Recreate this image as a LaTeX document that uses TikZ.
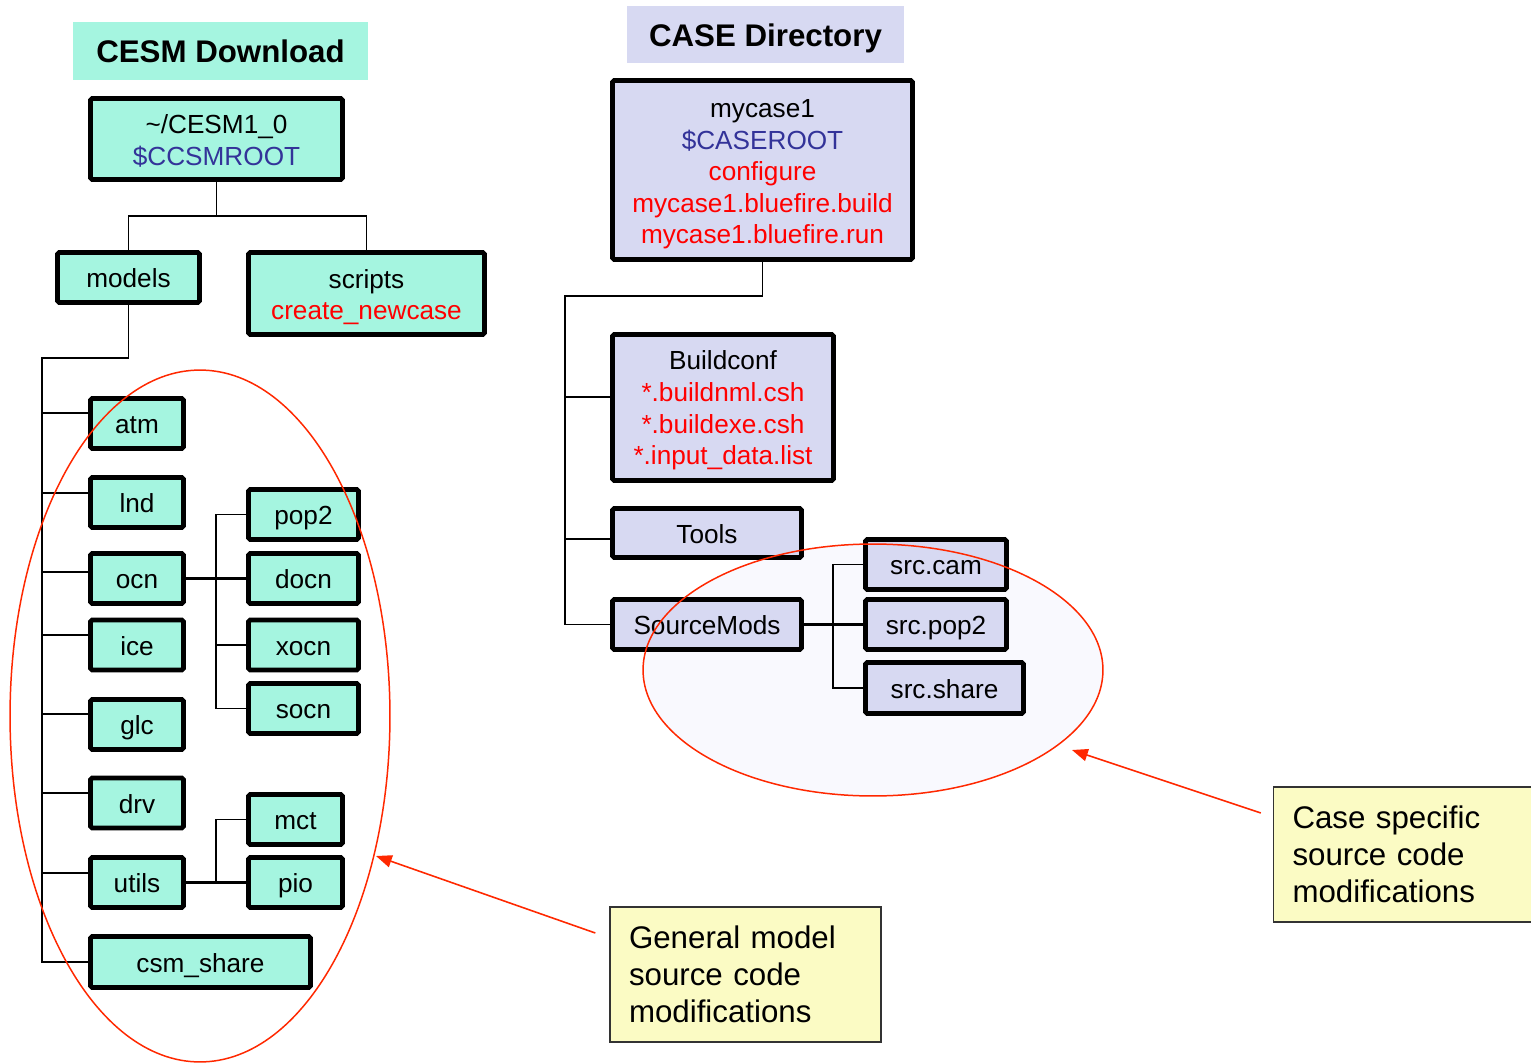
\documentclass[tikz,border=0pt]{standalone}
\usepackage{fontspec}
\setmainfont{Liberation Sans}
\usetikzlibrary{calc,arrows.meta}
\definecolor{mint}{RGB}{165,245,224}
\definecolor{lav}{RGB}{215,217,242}
\definecolor{note}{RGB}{251,251,196}
\definecolor{cblue}{RGB}{51,51,153}
\definecolor{cred}{RGB}{255,0,0}
\definecolor{ered}{RGB}{255,40,0}
\definecolor{efill}{RGB}{249,249,254}
\newcommand\topfix[1]{\rule{0pt}{#1}}
\begin{document}
\begin{tikzpicture}[x=0.02cm,y=-0.02cm,
  dirbox/.style={draw=black, line width=2.8pt, fill=mint, inner sep=0pt, align=center, rounded corners=1pt,
    font=\fontsize{14.9}{18}\selectfont},
  one/.style={text height=14pt, text depth=2.3pt},
  casebox/.style={dirbox, fill=lav},
  bw/.style={minimum width=#1*0.02cm},
  bh/.style={minimum height=#1*0.02cm},
  conn/.style={line width=1.1pt, black},
  title/.style={inner sep=0pt, text height=15pt, text depth=1.4pt, font=\fontsize{17.8}{21}\selectfont\bfseries},
  notebox/.style={draw=black!80, line width=0.8pt, fill=note, align=left, inner ysep=0pt, inner xsep=19*0.02cm,
    font=\fontsize{17.8}{21.2}\selectfont},
  ell/.style={draw=ered, line width=0.85pt},
  redarrow/.style={draw=ered, line width=0.9pt, -{Triangle[length=9pt,width=7pt]}}]
\useasboundingbox (0,0) rectangle (1531,1064);

% titles
\node[title, fill=mint, bw=295, bh=58] (t1) at (220.5,51) {CESM Download};
\node[title, fill=lav, bw=277, bh=57] (t2) at (765.5,34.5) {CASE Directory};

% right ellipse fill
\fill[efill] (873,670) ellipse [x radius=4.6cm, y radius=2.52cm];

% left tree boxes
\node[dirbox, bw=252, bh=81] (cesm) at (216.5,139) {\topfix{13.2pt}\textasciitilde/CESM1\_0\\\textcolor{cblue}{\$CCSMROOT}};
\node[dirbox, one, bw=142, bh=50] (models) at (128.5,277.5) {models};
\node[dirbox, bw=236, bh=82] (scripts) at (366.5,293.5) {\topfix{14.8pt}scripts\\\textcolor{cred}{create\_newcase}};
\node[dirbox, one, bw=93, bh=50] (atm) at (137,423.5) {atm};
\node[dirbox, one, bw=93, bh=50] (lnd) at (137,502.5) {lnd};
\node[dirbox, one, bw=93, bh=50] (ocn) at (137,578.5) {ocn};
\node[dirbox, one, bw=93, bh=50] (ice) at (137,645) {ice};
\node[dirbox, one, bw=93, bh=50] (glc) at (137,724.5) {glc};
\node[dirbox, one, bw=93, bh=50] (drv) at (137,803) {drv};
\node[dirbox, one, bw=93, bh=50] (utils) at (137,882.5) {utils};
\node[dirbox, one, bw=220, bh=51] (csm) at (200.5,962) {csm\_share};
\node[dirbox, one, bw=110, bh=50] (pop2) at (303.5,514.5) {pop2};
\node[dirbox, one, bw=110, bh=50] (docn) at (303.5,578.5) {docn};
\node[dirbox, one, bw=110, bh=50] (xocn) at (303.5,645) {xocn};
\node[dirbox, one, bw=110, bh=50] (socn) at (303.5,708.5) {socn};
\node[dirbox, one, bw=94, bh=50] (mct) at (295.5,819.5) {mct};
\node[dirbox, one, bw=94, bh=50] (pio) at (295.5,882.5) {pio};

% right tree boxes
\node[casebox, bw=300, bh=179] (mycase) at (762.5,170) {\topfix{15.2pt}mycase1\\\textcolor{cblue}{\$CASEROOT}\\\textcolor{cred}{configure}\\\textcolor{cred}{mycase1.bluefire.build}\\\textcolor{cred}{mycase1.bluefire.run}};
\node[casebox, bw=221, bh=146] (bconf) at (723,407.5) {\topfix{14.2pt}Buildconf\\\textcolor{cred}{*.buildnml.csh}\\\textcolor{cred}{*.buildexe.csh}\\\textcolor{cred}{*.input\_data.list}};
\node[casebox, one, bw=189, bh=49] (tools) at (707,533) {Tools};
\node[casebox, one, bw=189, bh=50] (smods) at (707,624.5) {SourceMods};
\node[casebox, one, bw=141, bh=50] (scam) at (936,564.5) {src.cam};
\node[casebox, one, bw=141, bh=50] (spop) at (936,624.5) {src.pop2};
\node[casebox, one, bw=158, bh=51] (sshare) at (944.5,688) {src.share};

% left connectors
\coordinate (split) at (216.5,216);
\coordinate (trunk) at (42,358);
\coordinate (obus) at (216,0);
\draw[conn] (cesm.south) -- (split);
\draw[conn] (models.north) |- (split) -| (scripts.north);
\draw[conn] (models.south) |- (trunk) |- (csm.west);
\draw[conn] ($(atm.west)+(0,-10.5)$) -- ++(-46,0);
\draw[conn] ($(lnd.west)+(0,-9.5)$) -- ++(-46,0);
\draw[conn] ($(ocn.west)+(0,-6.5)$) -- ++(-46,0);
\draw[conn] ($(ice.west)+(0,-10)$) -- ++(-46,0);
\draw[conn] ($(glc.west)+(0,-10.5)$) -- ++(-46,0);
\draw[conn] ($(drv.west)+(0,-10)$) -- ++(-46,0);
\draw[conn] ($(utils.west)+(0,-9.5)$) -- ++(-46,0);
\draw[conn, line width=1.6pt] (ocn.east) -- (docn.west);
\draw[conn] (pop2.west) -- (obus |- pop2.west) |- (socn.west);
\draw[conn] (xocn.west) -- (obus |- xocn.west);
\draw[conn, line width=1.6pt] (utils.east) -- (pio.west);
\draw[conn] (mct.west) -- (obus |- mct.west) -- (obus |- pio.west);

% right connectors
\coordinate (rtop) at (565,296);
\coordinate (sbus) at (833,0);
\draw[conn] (mycase.south) |- (rtop) |- (smods.west);
\draw[conn] ($(bconf.west)+(0,-10.5)$) -- ++(-45,0);
\draw[conn] ($(tools.west)+(0,6)$) -- ++(-45,0);
\draw[conn, line width=1.6pt] (smods.east) -- (spop.west);
\draw[conn] (scam.west) -- (sbus |- scam.west) |- (sshare.west);

% ellipses
\draw[ell] (200,716) ellipse [x radius=3.8cm, y radius=6.92cm];
\draw[ell] (873,670) ellipse [x radius=4.6cm, y radius=2.52cm];

% callouts
\node[notebox, text width=233*0.02cm, minimum height=135*0.02cm] (gen) at (745.5,974.5) {General model\\source code\\modifications};
\node[notebox, text width=221*0.02cm, minimum height=135*0.02cm] (cspec) at (1403,854.5) {Case specific\\source code\\modifications};
\coordinate (tipL) at (376,856);
\coordinate (tipR) at (1072,750);
\draw[redarrow] ($(gen.west)+(-14,-41.5)$) -- (tipL);
\draw[redarrow] ($(cspec.west)+(-12,-41.5)$) -- (tipR);
\end{tikzpicture}
\end{document}
